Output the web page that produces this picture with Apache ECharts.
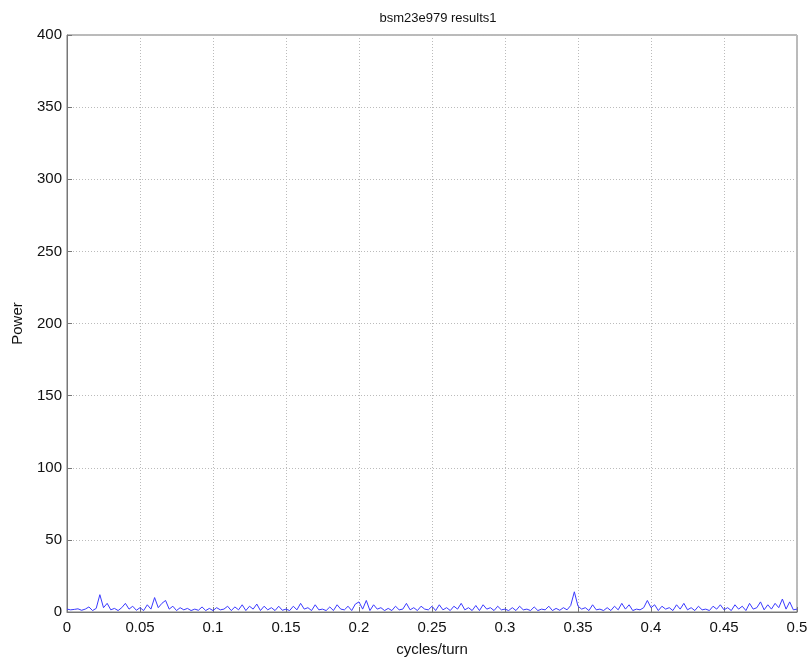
<!DOCTYPE html>
<html>
<head>
<meta charset="utf-8">
<script src="https://cdn.jsdelivr.net/npm/echarts@6/dist/echarts.min.js"></script>
<style>
  html, body { margin: 0; padding: 0; background: #fff; }
  #main { width: 812px; height: 659px; }
</style>
</head>
<body>
<div id="main"></div>
<script>
// frequency step of the spectrum samples (cycles/turn)
var freqStep = 0.0025;
// power values, one per step from 0 to 0.5
var powerValues = [
    2, 1.5, 1.8, 2.2, 1.2, 2, 3.5, 1, 2.5, 12, 3, 6, 1.5, 2.5, 1, 3, 6, 2, 4, 1.2,
    3, 1, 5, 2, 10, 3, 6, 8, 2, 4, 1, 3, 1.5, 2.5, 1, 2, 1.2, 3.5, 1, 2.5,
    1, 3, 1.5, 2, 4, 1, 3.5, 1.5, 5, 1, 4, 2, 5.5, 1, 4, 1.5, 3, 1, 4, 1.2,
    2, 1, 4, 1.5, 6, 2, 3, 1, 5, 1.5, 2, 1, 3.5, 1, 5, 2, 1.5, 4, 1, 5.5,
    7, 2, 8, 1, 5, 2, 3, 1, 2.5, 1, 4, 1.5, 2, 6, 1.5, 3, 1, 4, 2, 1.5,
    4, 1, 5, 1.5, 3, 1, 4, 2, 6, 1.5, 3, 1, 4.5, 1, 5, 2, 3, 1, 4, 1.5,
    2, 1, 3, 1, 4, 1.5, 2, 1, 3.5, 1, 2, 1.5, 4, 1, 2.5, 1.2, 3, 1.5, 4.5, 14,
    4, 2, 3, 1, 5, 1.5, 2, 1, 3, 1, 4, 1.5, 6, 2, 5, 1, 2, 1.5, 3, 8,
    3, 5, 1, 4, 2, 3, 1, 5, 2, 6, 1.5, 3, 1, 4, 1.5, 2, 1, 4, 2, 5,
    1.5, 3, 1, 5, 2, 4, 1, 6, 2, 3, 7, 1.5, 5, 2, 6, 3, 9, 2, 7, 1.5,
    2
];

var seriesData = powerValues.map(function (v, i) {
    return [+(i * freqStep).toFixed(4), v];
});

var myChart = echarts.init(document.getElementById('main'));
var option = {
    backgroundColor: '#fff',
    animation: false,
    title: {
        text: 'bsm23e979 results1',
        left: 433,
        top: 7,
        textAlign: 'center',
        textStyle: {
            color: '#111',
            fontSize: 13,
            fontWeight: 'normal',
            fontFamily: 'Liberation Sans'
        }
    },
    grid: {
        left: 67,
        right: 15,
        top: 35,
        bottom: 47,
        outerBoundsMode: 'none',
        show: true,
        borderColor: '#777',
        borderWidth: 1
    },
    xAxis: {
        type: 'value',
        min: 0,
        max: 0.5,
        interval: 0.05,
        name: 'cycles/turn',
        nameLocation: 'middle',
        nameGap: 30,
        nameTextStyle: { color: '#111', fontSize: 15, fontFamily: 'Liberation Sans' },
        axisLine: { show: true, lineStyle: { color: '#777' } },
        axisTick: { show: true, inside: true, length: 5, lineStyle: { color: '#777' } },
        axisLabel: {
            color: '#111',
            fontSize: 15,
            fontFamily: 'Liberation Sans',
            margin: 8,
            formatter: function (v) { return String(+v.toFixed(2)); }
        },
        splitLine: { show: true, lineStyle: { color: '#bbb', type: [1, 2] } }
    },
    yAxis: {
        type: 'value',
        min: 0,
        max: 400,
        interval: 50,
        name: 'Power',
        nameLocation: 'middle',
        nameGap: 42,
        nameTextStyle: { color: '#111', fontSize: 15, fontFamily: 'Liberation Sans' },
        axisLine: { show: true, lineStyle: { color: '#777' } },
        axisTick: { show: true, inside: true, length: 5, lineStyle: { color: '#777' } },
        axisLabel: { color: '#111', fontSize: 15, fontFamily: 'Liberation Sans', margin: 5 },
        splitLine: { show: true, lineStyle: { color: '#bbb', type: [1, 2] } }
    },
    series: [{
        type: 'line',
        data: seriesData,
        symbol: 'none',
        lineStyle: { color: '#3a3aff', width: 1 }
    }]
};
myChart.setOption(option);
window.addEventListener('resize', function () {
    myChart.resize();
});
</script>
</body>
</html>
